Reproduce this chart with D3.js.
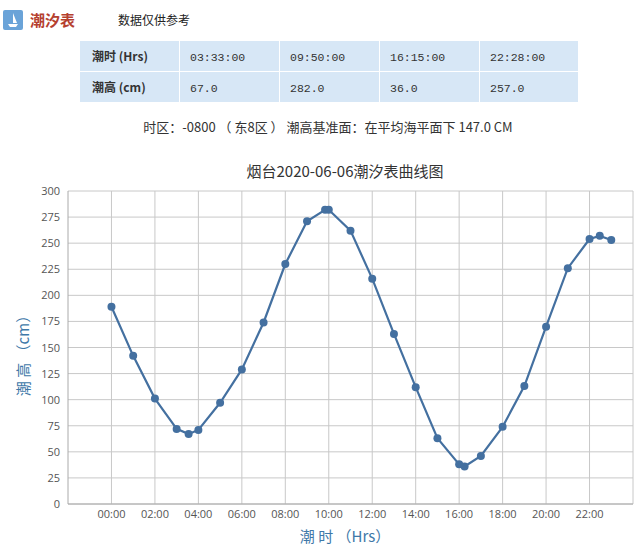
<!DOCTYPE html><html><head><meta charset="utf-8"><script src="https://cdn.jsdelivr.net/npm/d3@7"></script>
<style>body{margin:0;background:#fff}svg{display:block}</style></head><body><svg id="c" width="643" height="551"></svg>
<script>
const hours=[0,1,2,3,3.55,4,5,6,7,8,9,9.83,10,11,12,13,14,15,16,16.25,17,18,19,20,21,22,22.47,23];
const heights=[189,142,101,72,67,71,97,129,174,230,271,282,282,262,216,163,112,63,38,36,46,74,113,170,226,254,257,253];
const yTicks=[0,25,50,75,100,125,150,175,200,225,250,275,300];
const xTicks=[0,2,4,6,8,10,12,14,16,18,20,22];
const tableRows=[["潮时 (Hrs)","03:33:00","09:50:00","16:15:00","22:28:00"],["潮高 (cm)","67.0","282.0","36.0","257.0"]];
const svg=d3.select("#c");
const F="'Noto Sans CJK SC','Noto Sans',sans-serif";
svg.append("rect").attr("x",3).attr("y",10).attr("width",20).attr("height",20).attr("rx",2).attr("fill","#6aa3d8");
svg.append("path").attr("d","M8 24 L18 24 L16 27 L10 27 Z M13 13 L13 23 L17 23 Z").attr("fill","#fff");
svg.append("text").attr("x",30).attr("y",26).text("潮汐表").attr("font-family",F).attr("font-size",15).attr("font-weight","bold").attr("fill","#b5402f");
svg.append("text").attr("x",118).attr("y",25).text("数据仅供参考").attr("font-family",F).attr("font-size",12).attr("fill","#222");
const colX=[80,180,280,380,480,579];
tableRows.forEach((r,i)=>{r.forEach((c,j)=>{
 svg.append("rect").attr("x",colX[j]).attr("y",41+i*31).attr("width",colX[j+1]-colX[j]-1).attr("height",30).attr("fill","#d7e7f6");
 svg.append("text").attr("x",colX[j]+(j==0?12:10)).attr("y",61+i*31).text(c).attr("font-family",j==0?F:"'Liberation Mono',monospace").attr("font-size",j==0?12:11.5).attr("font-weight",j==0?"bold":"normal").attr("fill","#333");
});});
svg.append("text").attr("x",328).attr("y",132).attr("text-anchor","middle").text("时区：-0800 （ 东8区 ） 潮高基准面：在平均海平面下 147.0 CM").attr("font-family",F).attr("font-size",13).attr("fill","#333");
const x=d3.scaleLinear().domain([-2,24]).range([68,633]);
const y=d3.scaleLinear().domain([0,300]).range([504,191]);
svg.append("text").attr("x",345).attr("y",177).attr("text-anchor","middle").text("烟台2020-06-06潮汐表曲线图").attr("font-family",F).attr("font-size",15).attr("fill","#333");
const g=svg.append("g");
g.selectAll(".hy").data(yTicks).join("line").attr("x1",68).attr("x2",633).attr("y1",d=>y(d)).attr("y2",d=>y(d)).attr("stroke","#c8c8c8");
g.selectAll(".vx").data(xTicks).join("line").attr("y1",191).attr("y2",504).attr("x1",d=>x(d)).attr("x2",d=>x(d)).attr("stroke","#c8c8c8");
g.append("line").attr("x1",633).attr("x2",633).attr("y1",191).attr("y2",504).attr("stroke","#c8c8c8");
g.append("line").attr("x1",68).attr("x2",68).attr("y1",191).attr("y2",504).attr("stroke","#aaa");
g.append("line").attr("x1",68).attr("x2",633).attr("y1",504).attr("y2",504).attr("stroke","#aaa");
g.selectAll(".yl").data(yTicks).join("text").attr("x",60).attr("y",d=>y(d)+4).attr("text-anchor","end").text(d=>d).attr("font-family","'Open Sans',sans-serif").attr("font-size",11).attr("fill","#555");
g.selectAll(".xl").data(xTicks).join("text").attr("x",d=>x(d)).attr("y",518).attr("text-anchor","middle").text(d=>String(d).padStart(2,"0")+":00").attr("font-family","'Open Sans',sans-serif").attr("font-size",11).attr("fill","#555");
const pts=hours.map((h,i)=>[h,heights[i]]);
g.append("path").datum(pts).attr("d",d3.line().x(d=>x(d[0])).y(d=>y(d[1]))).attr("fill","none").attr("stroke","#4470a0").attr("stroke-width",2.2);
g.selectAll(".pt").data(pts).join("circle").attr("cx",d=>x(d[0])).attr("cy",d=>y(d[1])).attr("r",4).attr("fill","#4470a0");
svg.append("text").attr("x",345).attr("y",542).attr("text-anchor","middle").text("潮 时 （Hrs）").attr("font-family",F).attr("font-size",15).attr("fill","#3e78a8");
svg.append("text").attr("transform","translate(29,352) rotate(-90)").attr("text-anchor","middle").text("潮 高 （cm）").attr("font-family",F).attr("font-size",15).attr("fill","#3e78a8");
</script></body></html>
